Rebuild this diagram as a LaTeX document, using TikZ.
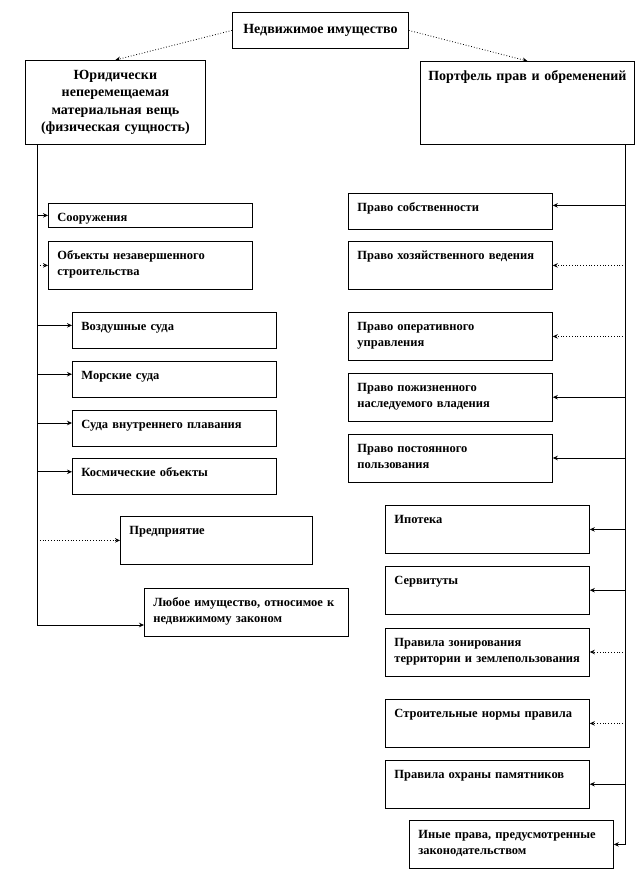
\documentclass[tikz,border=0pt]{standalone}
\usepackage{fontspec}
\setmainfont{Liberation Serif}
\usetikzlibrary{positioning,arrows.meta,calc}

\begin{document}
\begin{tikzpicture}[
  x=1pt, y=-1pt,
  every node/.style={font=\bfseries\fontsize{12.5}{16}\selectfont},
  head/.style={draw, line width=0.8pt, anchor=north west, align=center, font=\bfseries\fontsize{14}{17.5}\selectfont},
  item/.style={draw, line width=0.8pt, anchor=north west, align=left, text width=186pt,
    inner xsep=9pt, inner ysep=0pt, text height=18pt, text depth=30pt},
  low/.style={text depth=18pt},
  flat/.style={text depth=6pt},
  link/.style={line width=0.8pt, -{Stealth[length=5pt,width=4.5pt]}},
  node distance=12pt
]
\useasboundingbox (0,0) rectangle (639,876);

% top and the two headers
\node[head, minimum width=176pt, minimum height=36pt] (realty) at (232,12) {Недвижимое имущество};
\node[head, text width=170pt, inner xsep=5pt, minimum height=84pt] (thing) at (25,60)
  {Юридически\\ неперемещаемая\\ материальная вещь\\ (физическая сущность)};
\node[head, text width=204pt, inner xsep=5pt, inner ysep=0pt, text height=19pt, text depth=64pt] (rights) at (420,61)
  {Портфель прав и обременений};

\draw[link, dotted] (realty.west) -- (thing.north);
\draw[link, dotted] (realty.east) -- (rights.north);

% left column
\node[item, flat] (constr) at (48,203) {Сооружения};
\node[item] (unfinished) at (48,241) {Объекты незавершенного\\ строительства};
\node[item, low] (aircraft) at (72,312) {Воздушные суда};
\node[item, low, below=of aircraft.south west, anchor=north west] (seaship) {Морские суда};
\node[item, low, below=of seaship.south west, anchor=north west] (rivership) {Суда внутреннего плавания};
\node[item, low, below=of rivership.south west, anchor=north west] (space) {Космические объекты};
\node[item, text width=174pt] (enterprise) at (120,516) {Предприятие};
\node[item] (anyprop) at (144,588) {Любое имущество, относимое к\\ недвижимому законом};

\coordinate (ltrunk) at ($(thing.south west)+(12,0)$);
\coordinate (lfoot) at (ltrunk |- 0,625);
\draw[link] (ltrunk) -- (lfoot) -- (lfoot -| anyprop.west);
\draw[link] (ltrunk |- constr.west) -- (constr.west);
\draw[link, dotted] (ltrunk |- unfinished.west) -- (unfinished.west);
\foreach \n in {aircraft,seaship,rivership,space}
  \draw[link] (ltrunk |- \n.west) ++(0,-5) -- ([yshift=5pt]\n.west);
\draw[link, dotted] (ltrunk |- enterprise.west) -- (enterprise.west);

% right column
\node[item, low] (ownership) at (348,193) {Право собственности};
\node[item] (econ) at (348,241) {Право хозяйственного ведения};
\node[item] (operative) at (348,312) {Право оперативного\\ управления};
\node[item, below=of operative.south west, anchor=north west] (lifelong) {Право пожизненного\\ наследуемого владения};
\node[item, below=of lifelong.south west, anchor=north west] (perpetual) {Право постоянного\\ пользования};
\node[item] (mortgage) at (385,505) {Ипотека};
\node[item, below=of mortgage.south west, anchor=north west] (servitude) {Сервитуты};
\node[item, below=13pt of servitude.south west, anchor=north west] (zoning) {Правила зонирования\\ территории и землепользования};
\node[item] (building) at (385,699) {Строительные  нормы правила};
\node[item, below=of building.south west, anchor=north west] (monuments) {Правила охраны памятников};
\node[item] (otherrights) at (409,820) {Иные права, предусмотренные\\ законодательством};

\coordinate (rtrunk) at ($(rights.south east)+(-9,0)$);
\coordinate (rfoot) at (rtrunk |- otherrights.east);
\draw[line width=0.8pt] (rtrunk) -- (rfoot);
\draw[link] (rfoot) -- (otherrights.east);
\draw[link] (rtrunk |- ownership.east) ++(0,-6) -- ([yshift=6pt]ownership.east);
\foreach \n in {lifelong,perpetual,mortgage,servitude,monuments}
  \draw[link] (rtrunk |- \n.east) -- (\n.east);
\foreach \n in {econ,operative,zoning,building}
  \draw[link, dotted] (rtrunk |- \n.east) -- (\n.east);
\end{tikzpicture}
\end{document}
